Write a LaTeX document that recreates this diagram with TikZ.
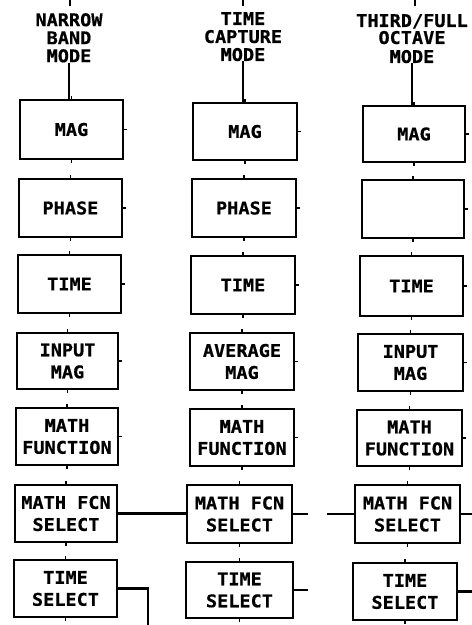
\documentclass[tikz,border=0pt]{standalone}
\usepackage{fontspec}
\newfontfamily\plotfont[FakeStretch=1.06,BoldFont={DejaVu Sans Mono Bold},BoldFeatures={FakeBold=0.6}]{DejaVu Sans Mono}
\newcommand\mkbox[6]{%
  \node[box, minimum width={#4pt-#2pt}, minimum height={#5pt-#3pt}] (#1) at ({(#2+#4)/2},{(#3+#5)/2}) {#6};
  \draw[tick] (#1.north) -- ++(0,-3);
  \draw[tick] (#1.south) -- ++(0,3);
  \draw[tick] (#1.east) -- ++(3,0);}
\begin{document}
\begin{tikzpicture}[x=1pt,y=-1pt,
  box/.style={draw, line width=2.2pt, inner sep=0pt, align=center,
    font=\plotfont\bfseries\fontsize{17.5}{22}\selectfont},
  head/.style={inner sep=0pt, align=center, anchor=north,
    font=\plotfont\bfseries\fontsize{17.5}{18}\selectfont},
  wire/.style={line width=2.2pt},
  tick/.style={line width=1.8pt}]
\useasboundingbox (0,0) rectangle (472,625);

% headers
\node[head] (h1) at (69,13) {NARROW\\BAND\\MODE};
\node[head] (h2) at (243,12) {TIME\\CAPTURE\\MODE};
\node[head] (h3) at (412,14) {THIRD/FULL\\[-1pt]OCTAVE\\[1pt]MODE};
\coordinate (t1) at (70,0);
\coordinate (t2) at (243,0);
\coordinate (t3) at (415,0);
\draw[tick] (t1) -- ++(0,6);
\draw[tick] (t2) -- ++(0,6);
\draw[tick] (t3) -- ++(0,6);

% column 1
\mkbox{a1}{20}{100}{123}{159}{MAG}
\mkbox{a2}{19}{179}{122}{237}{PHASE}
\mkbox{a3}{18}{255}{121}{313}{TIME}
\mkbox{a4}{17}{333}{118}{389}{INPUT\\MAG}
\mkbox{a5}{16}{408}{118}{465}{MATH\\FUNCTION}
\mkbox{a6}{15}{485}{117}{542}{MATH FCN\\SELECT}
\mkbox{a7}{14}{560}{117}{617}{TIME\\SELECT}

% column 2
\mkbox{b1}{193}{103}{297}{160}{MAG}
\mkbox{b2}{192}{179}{296}{237}{PHASE}
\mkbox{b3}{191}{256}{295}{314}{TIME}
\mkbox{b4}{190}{333}{294}{390}{AVERAGE\\MAG}
\mkbox{b5}{190}{409}{294}{466}{MATH\\FUNCTION}
\mkbox{b6}{187}{485}{292}{543}{MATH FCN\\SELECT}
\mkbox{b7}{186}{562}{293}{618}{TIME\\SELECT}

% column 3
\mkbox{c1}{363}{106}{465}{162}{MAG}
\mkbox{c2}{362}{180}{464}{238}{}
\mkbox{c3}{360}{256}{463}{316}{TIME}
\mkbox{c4}{358}{334}{463}{391}{INPUT\\MAG}
\mkbox{c5}{357}{410}{462}{466}{MATH\\FUNCTION}
\mkbox{c6}{355}{485}{460}{543}{MATH FCN\\SELECT}
\mkbox{c7}{353}{563}{457}{620}{TIME\\SELECT}

% header connectors
\draw[wire] (h1.south) -- (h1.south |- a1.north);
\draw[wire] (h2.south) -- (h2.south |- b1.north);
\draw[wire] (h3.south) -- (h3.south |- c1.north);

% horizontal connectors
\draw[wire] (a6.east) -- (a6.east -| b6.west);
\draw[wire] (b6.east) -- ++(15,0);
\coordinate (c6in) at (327,514);
\draw[wire] (c6in) -- (c6in -| c6.west);
\draw[wire] (c6.east) -- ++(15,0);
\coordinate (a7down) at (148,625);
\draw[wire] (a7.east) -| (a7down);
\draw[wire] (b7.east) -- ++(14,0);
\draw[wire] (c7.east) -- ++(15,0);
\end{tikzpicture}
\end{document}
